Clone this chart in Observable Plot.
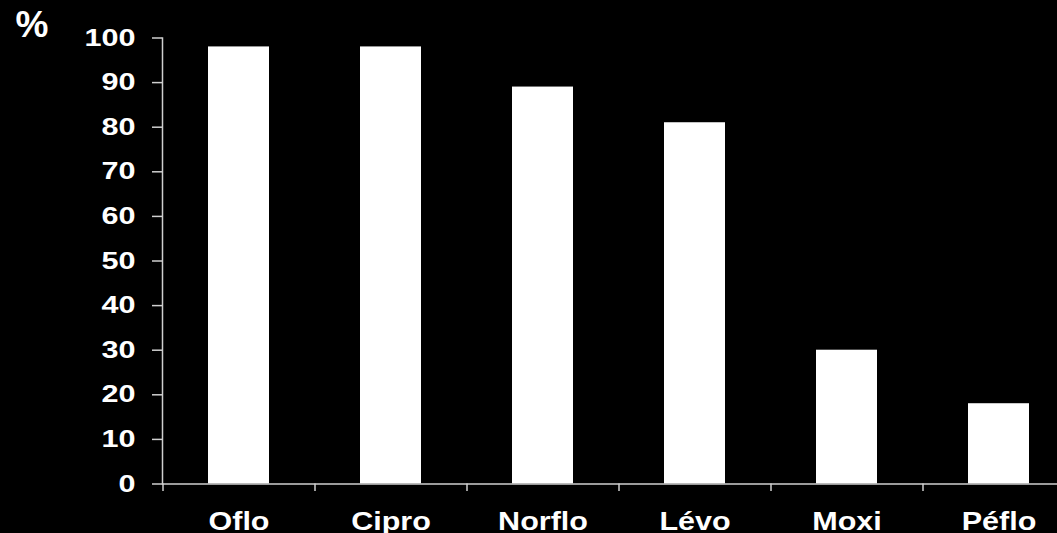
<!DOCTYPE html>
<html>
<head>
<meta charset="utf-8">
<script src="https://cdn.jsdelivr.net/npm/d3@7"></script>
<script src="https://cdn.jsdelivr.net/npm/@observablehq/plot@0.6"></script>
<style>
  html, body { margin: 0; padding: 0; background: #000; overflow: hidden; }
  #chart svg { display: block; background: #000; }
</style>
</head>
<body>
<div id="chart"></div>
<script>
// Fluoroquinolones and their percentages
const categories = ["Oflo", "Cipro", "Norflo", "Lévo", "Moxi", "Péflo"];
const values = [98, 98, 89, 81, 30, 18];
const yTicks = [0, 10, 20, 30, 40, 50, 60, 70, 80, 90, 100];
const unitLabel = "%";

const data = categories.map((name, i) => ({name, value: values[i]}));

const W = 1057, H = 533;
const mLeft = 162, mTop = 37.5, mBottom = 49.5;
// the band scale runs past the right edge, so the last category is partly cut off
const xRange = [mLeft, 1074];
const padInner = 0.6, padOuter = 0.3;
const step = (xRange[1] - xRange[0]) / (categories.length - padInner + 2 * padOuter);
const axisColor = "#cfcfcf";

const chart = Plot.plot({
  width: W,
  height: H,
  marginLeft: mLeft,
  marginRight: 0,
  marginTop: mTop,
  marginBottom: mBottom,
  style: {background: "#000", color: "#fff", fontFamily: "'Liberation Sans', Arial, sans-serif", fontWeight: "bold", overflow: "hidden"},
  x: {domain: categories, range: xRange, paddingInner: padInner, paddingOuter: padOuter},
  y: {domain: [0, 100], ticks: yTicks},
  marks: [
    Plot.barY(data, {x: "name", y: "value", fill: "#fff"}),
    Plot.frame({anchor: "left", stroke: axisColor, strokeWidth: 1.5}),
    Plot.ruleY([0], {stroke: axisColor, strokeWidth: 1.5}),
    // y ticks and labels
    Plot.axisY({ticks: yTicks, tickSize: 10, tickPadding: 17, stroke: axisColor, strokeWidth: 1.5,
      fill: "#fff", fontSize: 23.5, label: null}),
    // x tick marks between categories
    Plot.axisX({tickSize: 7.5, tickFormat: null, stroke: axisColor, strokeWidth: 1.5, dx: -step / 2, label: null}),
    // x category labels
    Plot.axisX({tickSize: 0, tickPadding: 28, fill: "#fff", fontSize: 25, label: null}),
    // unit label
    Plot.text([unitLabel], {frameAnchor: "top-left", textAnchor: "start", lineAnchor: "top",
      dx: -147, dy: -27, fill: "#fff", fontSize: 37, fontWeight: "bold"})
  ]
});

document.getElementById("chart").append(chart);

// widen the glyphs horizontally
const stretch = {23.5: 1.3, 25: 1.22, 37: 1.0};
chart.querySelectorAll("text").forEach(t => {
  const fs = parseFloat(t.getAttribute("font-size") || t.closest("[font-size]")?.getAttribute("font-size"));
  const k = stretch[fs] || 1;
  if (k !== 1) {
    const len = t.getComputedTextLength();
    t.setAttribute("textLength", (len * k).toFixed(1));
    t.setAttribute("lengthAdjust", "spacingAndGlyphs");
  }
});
</script>
</body>
</html>
